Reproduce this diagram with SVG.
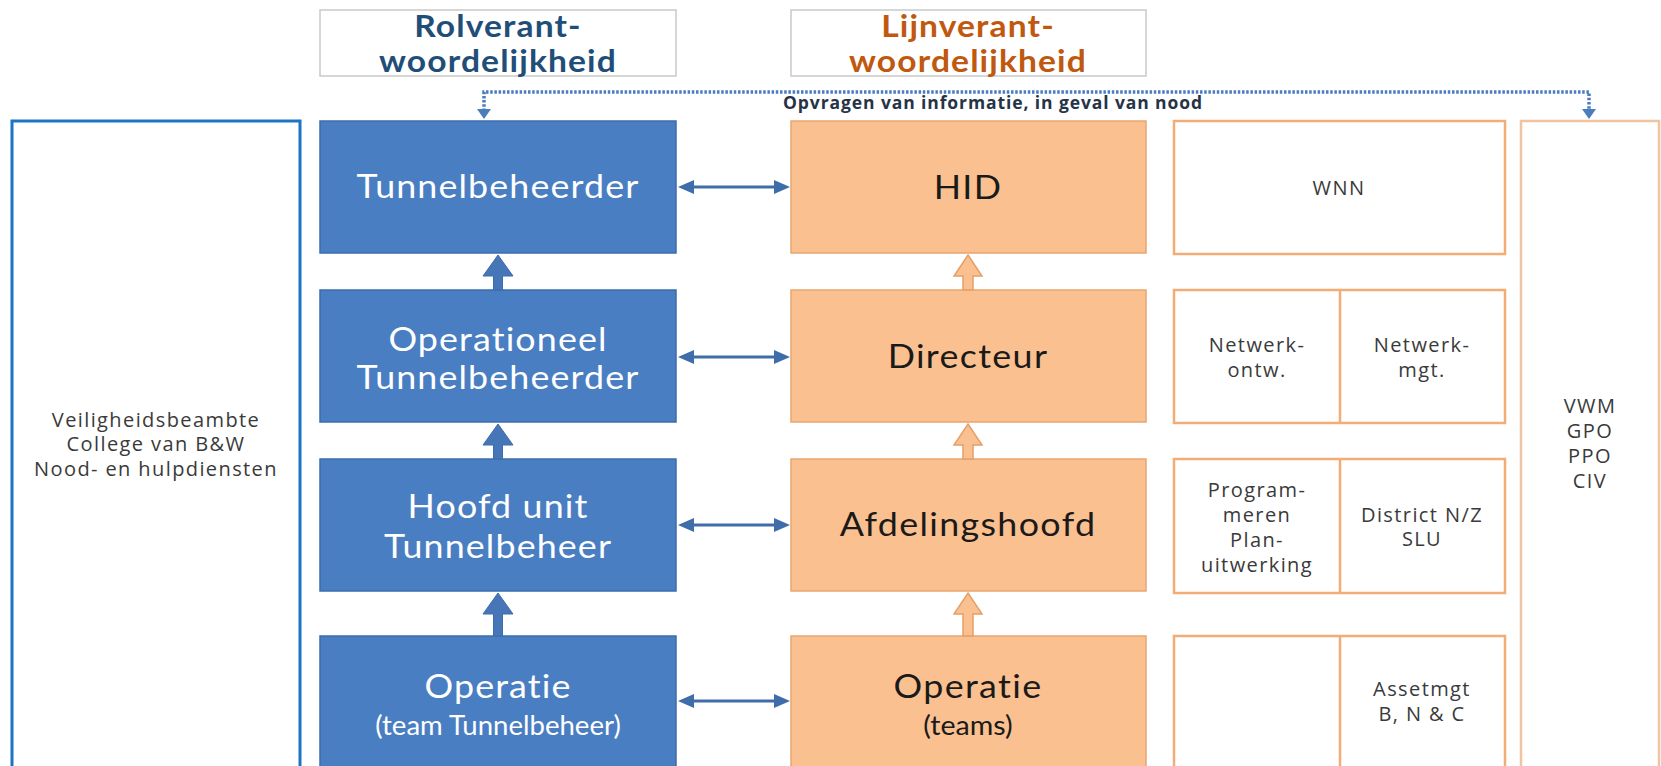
<svg xmlns="http://www.w3.org/2000/svg" width="1661" height="766" viewBox="0 0 1661 766">
<style>
.hdr{fill:#fff;stroke:#c9c9c9;stroke-width:1.5}
.blue{fill:#4a7ec2;stroke:#3d6cab;stroke-width:1.5}
.orng{fill:#fac08f;stroke:#e8a66f;stroke-width:1.5}
.pnl{fill:#fff;stroke:#f2ad77;stroke-width:2.5}
.side{fill:#fff;stroke:#1b74c6;stroke-width:3}
.side2{fill:#fff;stroke:#efc4a2;stroke-width:2.5}
.div{stroke:#f2ad77;stroke-width:2.5}
text{font-family:"Open Sans","Liberation Sans",sans-serif;text-anchor:middle}
.th{font-family:Lato,"Open Sans",sans-serif;font-size:30px;font-weight:bold;letter-spacing:1px}
.tb{font-family:Lato,"Open Sans",sans-serif;font-size:32px;fill:#fff;letter-spacing:1px}
.tbs{font-family:Lato,"Open Sans",sans-serif;font-size:26px;fill:#fff}
.to{font-family:Lato,"Open Sans",sans-serif;font-size:32px;fill:#1a1a1a;letter-spacing:1.2px}
.tos{font-family:Lato,"Open Sans",sans-serif;font-size:26px;fill:#1a1a1a}
.ts{font-size:20px;fill:#3a3a3a;letter-spacing:1.4px}
.lbl{font-size:17.5px;font-weight:bold;fill:#263347;letter-spacing:0.9px}
.arrB{fill:#4676b8;stroke:#3d6cab;stroke-width:1}
.arrO{fill:#fac08f;stroke:#e3a068;stroke-width:1.5}
.dbl{fill:#3f6dab}
.dot{fill:none;stroke:#4a7dbb;stroke-width:3.5;stroke-dasharray:2.5 1.7}
</style>

<g id="hdr-rol"><rect class="hdr" x="320" y="10" width="356" height="66"/>
<text class="th" fill="#1f4e79" transform="translate(498 37) scale(1.12 1)">Rolverant-</text>
<text class="th" fill="#1f4e79" transform="translate(498 72) scale(1.12 1)">woordelijkheid</text></g>
<g id="hdr-lijn"><rect class="hdr" x="791" y="10" width="355" height="66"/>
<text class="th" fill="#c0580f" transform="translate(968 37) scale(1.12 1)">Lijnverant-</text>
<text class="th" fill="#c0580f" transform="translate(968 72) scale(1.12 1)">woordelijkheid</text></g>

<g id="veiligheid"><rect class="side" x="12" y="121" width="288" height="660"/>
<text class="ts" x="156" y="427">Veiligheidsbeambte</text>
<text class="ts" x="156" y="451">College van B&amp;W</text>
<text class="ts" x="156" y="476">Nood- en hulpdiensten</text></g>

<g id="tunnelbeheerder"><rect class="blue" x="320" y="121" width="356" height="132"/>
<text class="tb" transform="translate(498 198) scale(1.12 1)">Tunnelbeheerder</text></g>
<g id="oper-tunnelbeheerder"><rect class="blue" x="320" y="290" width="356" height="132"/>
<text class="tb" transform="translate(498 351) scale(1.12 1)">Operationeel</text>
<text class="tb" transform="translate(498 389) scale(1.12 1)">Tunnelbeheerder</text></g>
<g id="hoofd-unit"><rect class="blue" x="320" y="459" width="356" height="132"/>
<text class="tb" transform="translate(498 518) scale(1.12 1)">Hoofd unit</text>
<text class="tb" transform="translate(498 558) scale(1.12 1)">Tunnelbeheer</text></g>
<g id="operatie-tb"><rect class="blue" x="320" y="636" width="356" height="140"/>
<text class="tb" transform="translate(498 698) scale(1.12 1)">Operatie</text>
<text class="tbs" transform="translate(498 735) scale(1.06 1)">(team Tunnelbeheer)</text></g>

<g id="hid"><rect class="orng" x="791" y="121" width="355" height="132"/>
<text class="to" transform="translate(968 199) scale(1.12 1)">HID</text></g>
<g id="directeur"><rect class="orng" x="791" y="290" width="355" height="132"/>
<text class="to" transform="translate(968 368) scale(1.12 1)">Directeur</text></g>
<g id="afdelingshoofd"><rect class="orng" x="791" y="459" width="355" height="132"/>
<text class="to" transform="translate(968 536) scale(1.12 1)">Afdelingshoofd</text></g>
<g id="operatie-teams"><rect class="orng" x="791" y="636" width="355" height="140"/>
<text class="to" transform="translate(968 698) scale(1.12 1)">Operatie</text>
<text class="tos" transform="translate(968 735) scale(1.1 1)">(teams)</text></g>

<g id="wnn"><rect class="pnl" x="1174" y="121" width="331" height="133"/>
<text class="ts" x="1339" y="195">WNN</text></g>
<g id="netwerk"><rect class="pnl" x="1174" y="290" width="331" height="133"/>
<line class="div" x1="1340" y1="290" x2="1340" y2="423"/>
<text class="ts" x="1257" y="352">Netwerk-</text>
<text class="ts" x="1257" y="377">ontw.</text>
<text class="ts" x="1422" y="352">Netwerk-</text>
<text class="ts" x="1422" y="377">mgt.</text></g>
<g id="programmeren"><rect class="pnl" x="1174" y="459" width="331" height="134"/>
<line class="div" x1="1340" y1="459" x2="1340" y2="593"/>
<text class="ts" x="1257" y="497">Program-</text>
<text class="ts" x="1257" y="522">meren</text>
<text class="ts" x="1257" y="547">Plan-</text>
<text class="ts" x="1257" y="572">uitwerking</text>
<text class="ts" x="1422" y="522">District N/Z</text>
<text class="ts" x="1422" y="546">SLU</text></g>
<g id="assetmgt"><rect class="pnl" x="1174" y="636" width="331" height="140"/>
<line class="div" x1="1340" y1="636" x2="1340" y2="776"/>
<text class="ts" x="1422" y="696">Assetmgt</text>
<text class="ts" x="1422" y="721">B, N &amp; C</text></g>
<g id="vwm"><rect class="side2" x="1521" y="121" width="138" height="660"/>
<text class="ts" x="1590" y="413">VWM</text>
<text class="ts" x="1590" y="438">GPO</text>
<text class="ts" x="1590" y="463">PPO</text>
<text class="ts" x="1590" y="488">CIV</text></g>

<g id="connectors">
<path class="dot" d="M484 111 V92 H1589 V111"/>
<path d="M477 109 L491 109 L484 119 z M1582 109 L1596 109 L1589 119 z" fill="#4a7dbb"/>
<text class="lbl" x="993" y="109">Opvragen van informatie, in geval van nood</text>

<polygon class="arrB" points="498,255 513,276 502.5,276 502.5,290 493.5,290 493.5,276 483,276"/>
<polygon class="arrB" points="498,424 513,445 502.5,445 502.5,459 493.5,459 493.5,445 483,445"/>
<polygon class="arrB" points="498,593 513,614 502.5,614 502.5,636 493.5,636 493.5,614 483,614"/>

<polygon class="arrO" points="968,255 982,276 973,276 973,290 963,290 963,276 954,276"/>
<polygon class="arrO" points="968,424 982,445 973,445 973,459 963,459 963,445 954,445"/>
<polygon class="arrO" points="968,593 982,614 973,614 973,636 963,636 963,614 954,614"/>

<polygon class="dbl" points="678,187 694,180 694,185.5 774,185.5 774,180 790,187 774,194 774,188.5 694,188.5 694,194"/>
<polygon class="dbl" points="678,357 694,350 694,355.5 774,355.5 774,350 790,357 774,364 774,358.5 694,358.5 694,364"/>
<polygon class="dbl" points="678,525 694,518 694,523.5 774,523.5 774,518 790,525 774,532 774,526.5 694,526.5 694,532"/>
<polygon class="dbl" points="678,701 694,694 694,699.5 774,699.5 774,694 790,701 774,708 774,702.5 694,702.5 694,708"/>
</g>
</svg>
